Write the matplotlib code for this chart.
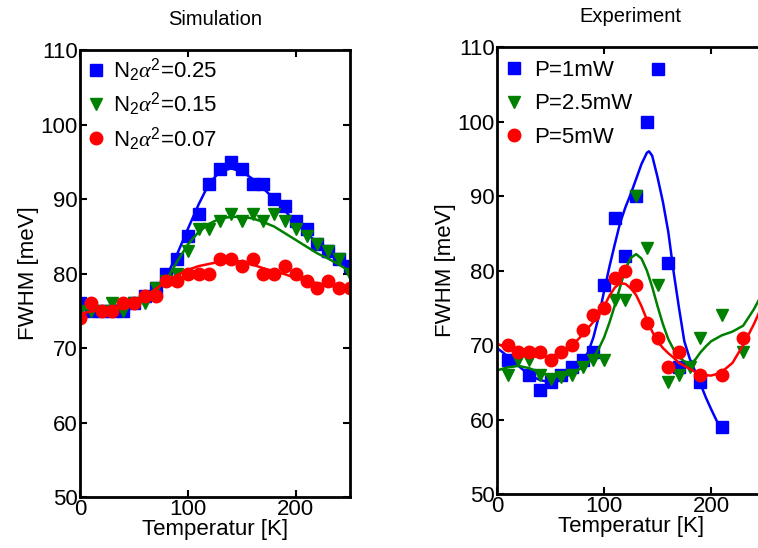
import numpy as np
import matplotlib
matplotlib.use("Agg")
import matplotlib.pyplot as plt

plt.rcParams['font.family'] = ['Liberation Sans', 'DejaVu Sans']
plt.rcParams['mathtext.fontset'] = 'custom'
plt.rcParams['mathtext.rm'] = 'Liberation Sans'
plt.rcParams['mathtext.it'] = 'Liberation Serif:italic'
plt.rcParams['mathtext.bf'] = 'Liberation Sans:bold'

# ---------------------------------------------------------------------------
# Simulation (left panel)
# ---------------------------------------------------------------------------
T_sim = [0, 10, 20, 30, 40, 50, 60, 70, 80, 90, 100, 110, 120,
         130, 140, 150, 160, 170, 180, 190, 200, 210, 220, 230, 240, 250]

sim_025 = [76, 75, 75, 75, 75, 76, 77, 78, 80, 82, 85, 88, 92,
           94, 95, 94, 92, 92, 90, 89, 87, 86, 84, 83, 82, 81]
sim_015 = [75, 75, 75, 76, 75, 76, 76, 78, 79, 80, 83, 86, 86,
           87, 88, 87, 88, 87, 88, 87, 86, 85, 84, 83, 82, 80]
sim_007 = [74, 76, 75, 75, 76, 76, 77, 77, 79, 79, 80, 80, 80,
           82, 82, 81, 82, 80, 80, 81, 80, 79, 78, 79, 78, 78]

fit_025 = [75.2, 75.3, 75.4, 75.6, 75.8, 76.3, 77.0, 78.0, 79.6, 82.6, 86.0, 89.3, 92.2,
           93.7, 94.1, 93.7, 92.7, 91.4, 90.0, 88.4, 86.8, 85.4, 84.1, 83.0, 82.0, 80.7]
fit_015 = [75.2, 75.2, 75.2, 75.3, 75.6, 76.0, 76.9, 78.0, 79.1, 81.6, 83.9, 85.6, 86.7,
           87.4, 87.6, 87.6, 87.4, 86.9, 86.3, 85.4, 84.5, 83.6, 82.7, 82.0, 81.2, 80.3]
fit_007 = [74.6, 74.9, 75.1, 75.4, 75.7, 76.2, 76.9, 77.9, 78.9, 79.8, 80.5, 81.0, 81.3,
           81.6, 81.7, 81.6, 81.2, 80.7, 80.3, 79.9, 79.4, 79.0, 78.7, 78.4, 78.2, 78.0]

sim_labels = [r'N$_2\mathit{\alpha}^2$=0.25', r'N$_2\mathit{\alpha}^2$=0.15',
              r'N$_2\mathit{\alpha}^2$=0.07']

# ---------------------------------------------------------------------------
# Experiment (right panel)
# ---------------------------------------------------------------------------
T_1mW = [10, 30, 40, 50, 60, 70, 80, 90, 100, 110, 120, 130, 140, 150, 160, 170, 190, 210]
exp_1mW = [68, 66, 64, 65, 66, 67, 68, 69, 78, 87, 82, 90, 100, 107, 81, 67, 65, 59]

T_25mW = [10, 20, 30, 40, 50, 60, 70, 80, 90, 100, 110, 120, 130, 140, 150,
          160, 170, 180, 190, 210, 230]
exp_25mW = [66, 68, 68, 66, 65.5, 65.7, 66, 67, 68, 68, 76, 76, 90, 83, 78,
            65, 66, 67, 71, 74, 69]

T_5mW = [10, 20, 30, 40, 50, 60, 70, 80, 90, 100, 110, 120, 130, 140, 150,
         160, 170, 190, 210, 230]
exp_5mW = [70, 69, 69, 69, 68, 69, 70, 72, 74, 75, 79, 80, 78, 73, 71,
           67, 69, 66, 66, 71]

Tfit_1mW = [0, 10, 20, 30, 40, 50, 60, 70, 80, 85, 90, 95, 100, 105, 110, 115, 120,
            125, 130, 135, 140, 142, 145, 150, 155, 160, 165, 170, 175, 180, 185,
            190, 195, 200, 205, 210]
fit_1mW = [69.6, 68.5, 67.2, 66.0, 65.3, 65.0, 65.3, 66.3, 67.9, 69.0, 71.0, 73.8, 77.2,
           80.5, 83.5, 86.4, 88.5, 90.3, 92.3, 94.3, 95.8, 96.0, 95.4, 92.5, 89.2,
           85.2, 79.8, 75.0, 70.5, 68.2, 66.5, 64.8, 63.0, 61.4, 59.9, 58.6]

Tfit_25mW = [0, 10, 20, 30, 40, 50, 60, 70, 80, 90, 95, 100, 105, 110, 115, 120, 125,
             130, 135, 140, 145, 150, 155, 160, 165, 170, 175, 180, 185, 190, 195,
             200, 210, 220, 230, 240, 250]
fit_25mW = [66.6, 67.0, 67.2, 66.9, 66.3, 65.8, 65.8, 66.2, 67.0, 68.3, 69.5, 71.0, 73.0,
            75.3, 77.8, 80.2, 81.7, 82.2, 81.6, 80.0, 77.8, 75.2, 72.8, 70.8, 69.4,
            68.4, 67.8, 67.5, 68.0, 69.0, 69.8, 70.5, 71.3, 71.8, 72.6, 74.8, 77.5]

Tfit_5mW = [0, 10, 20, 30, 40, 50, 60, 70, 80, 90, 100, 105, 110, 115, 120, 125, 130,
            135, 140, 145, 150, 155, 160, 165, 170, 180, 190, 200, 205, 210, 220,
            230, 240, 250]
fit_5mW = [70.2, 69.5, 68.9, 68.5, 68.4, 68.5, 68.9, 69.9, 71.4, 73.1, 75.2, 76.6, 77.7,
           78.3, 78.2, 77.6, 76.7, 75.2, 73.4, 71.8, 70.5, 69.6, 68.9, 68.3, 67.6,
           66.8, 66.0, 65.9, 66.1, 66.4, 67.6, 70.0, 72.8, 76.0]

exp_labels = ['P=1mW', 'P=2.5mW', 'P=5mW']

BLUE = (0, 0, 1)
GREEN = (0, 0.5, 0)
RED = (1, 0, 0)
FS = 16


def style_axes(ax, title):
    ax.set_xlim(0, 250)
    ax.set_ylim(50, 110)
    ax.set_xticks([0, 100, 200])
    ax.set_yticks([50, 60, 70, 80, 90, 100, 110])
    ax.tick_params(direction='in', length=5, width=1.5, labelsize=FS,
                   top=True, right=True, pad=1.5)
    for sp in ax.spines.values():
        sp.set_linewidth(2.0)
    ax.set_title(title, fontsize=14.5, pad=18)
    ax.set_xlabel('Temperatur [K]', fontsize=FS, labelpad=-1)
    ax.set_ylabel('FWHM [meV]', fontsize=FS, labelpad=1)


fig = plt.figure(figsize=(7.58, 5.48), dpi=100)
ax1 = fig.add_axes([0.1055, 0.093, 0.356, 0.8157])
ax2 = fig.add_axes([0.6557, 0.0985, 0.353, 0.8157])

# left panel
sim_sets = [(sim_025, fit_025, BLUE, 's', 8),
            (sim_015, fit_015, GREEN, 'v', 9),
            (sim_007, fit_007, RED, 'o', 9)]
for (vals, fit, col, mk, ms), lab in zip(sim_sets, sim_labels):
    ax1.plot(T_sim, vals, linestyle='none', marker=mk, ms=ms, color=col, label=lab)
    ax1.plot(T_sim, fit, color=col, lw=1.8)

style_axes(ax1, 'Simulation')
ax1.legend(loc='upper left', frameon=False, fontsize=FS, handlelength=0.8,
           handletextpad=0.4, labelspacing=0.3, borderaxespad=0.1,
           borderpad=0.2)

# right panel
exp_sets = [(T_1mW, exp_1mW, Tfit_1mW, fit_1mW, BLUE, 's', 8),
            (T_25mW, exp_25mW, Tfit_25mW, fit_25mW, GREEN, 'v', 9),
            (T_5mW, exp_5mW, Tfit_5mW, fit_5mW, RED, 'o', 9)]
for (t, vals, tf, fit, col, mk, ms), lab in zip(exp_sets, exp_labels):
    ax2.plot(t, vals, linestyle='none', marker=mk, ms=ms, color=col, label=lab)
    ax2.plot(tf, fit, color=col, lw=1.8)

style_axes(ax2, 'Experiment')
ax2.legend(loc='upper left', bbox_to_anchor=(0.0, 0.988), frameon=False,
           fontsize=FS, handlelength=0.8, handletextpad=0.5, labelspacing=0.55,
           borderaxespad=0.1, borderpad=0.25)

fig.savefig('out.png', dpi=100)
